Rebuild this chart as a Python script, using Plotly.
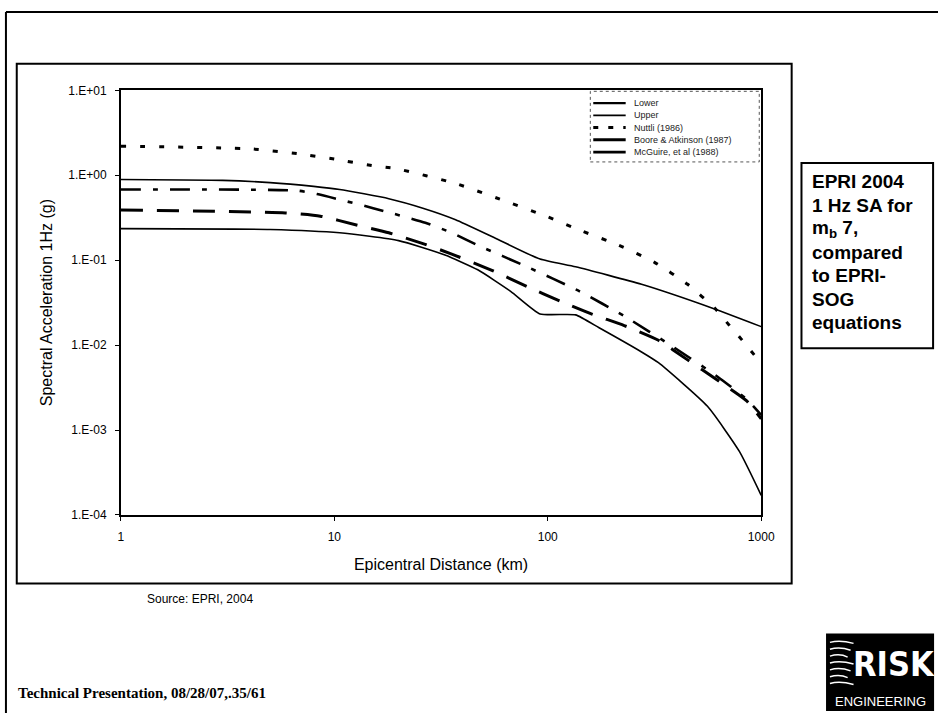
import plotly.graph_objects as go

# ---- data: 1 Hz spectral acceleration (g) vs epicentral distance (km) ----
dist_lower = [1, 5, 10.6, 20, 33, 47, 67, 92, 135, 174, 275, 330, 560, 790, 1000]
sa_lower = [0.235, 0.23, 0.21, 0.17, 0.115, 0.077, 0.043, 0.0233, 0.0227, 0.016,
            0.0083, 0.0062, 0.0019, 0.00056, 0.00017]

dist_upper = [1, 3, 5, 8, 10.6, 18, 26, 37, 56, 92, 135, 275, 596, 1000]
sa_upper = [0.89, 0.87, 0.82, 0.74, 0.68, 0.53, 0.41, 0.30, 0.185, 0.103, 0.0835, 0.052, 0.027, 0.0165]

dist_nuttli = [1, 4, 6.7, 10, 15, 19.4, 37, 67, 98, 145, 215, 315, 452, 608, 710, 815, 930, 1000]
sa_nuttli = [2.2, 2.05, 1.8, 1.55, 1.3, 1.2, 0.8, 0.47, 0.33, 0.22, 0.15, 0.095, 0.052,
             0.027, 0.017, 0.0114, 0.0076, 0.006]

dist_boore = [1, 5.9, 8.6, 12.7, 18, 25.8, 35.5, 54, 80, 114, 162, 228, 330, 452, 620, 855, 1000]
sa_boore = [0.39, 0.36, 0.33, 0.26, 0.21, 0.158, 0.118, 0.077, 0.049, 0.033, 0.023, 0.017,
            0.0114, 0.0067, 0.0039, 0.0022, 0.00135]

dist_mcguire = [1, 6.7, 8.3, 15.2, 26.7, 35.5, 47, 80, 141, 228, 390, 620, 855, 1000]
sa_mcguire = [0.68, 0.66, 0.6, 0.41, 0.276, 0.21, 0.15, 0.0835, 0.043, 0.022, 0.0094,
              0.0043, 0.0023, 0.0015]

series_names = ["Lower", "Upper", "Nuttli (1986)", "Boore & Atkinson (1987)", "McGuire, et al (1988)"]

x_tickvals = [1, 10, 100, 1000]
x_ticktext = ["1", "10", "100", "1000"]
y_tickvals = [1e-4, 1e-3, 1e-2, 1e-1, 1e0, 1e1]
y_ticktext = ["1.E-04", "1.E-03", "1.E-02", "1.E-01", "1.E+00", "1.E+01"]

# ---- page geometry helpers (pixel -> paper) ----
W, H = 952, 720


def px(x):
    return x / W


def py(y):
    return 1 - y / H


SANS = "Arial, Liberation Sans, sans-serif"
SERIF = "Times New Roman, Liberation Serif, serif"

styles = [
    dict(color="black", width=1.6, dash="solid"),
    dict(color="black", width=1.6, dash="solid"),
    dict(color="black", width=3, dash="5px,14px"),
    dict(color="black", width=3, dash="22px,14px"),
    dict(color="black", width=2.6, dash="20px,12px,5px,12px"),
]
data = [
    (dist_lower, sa_lower),
    (dist_upper, sa_upper),
    (dist_nuttli, sa_nuttli),
    (dist_boore, sa_boore),
    (dist_mcguire, sa_mcguire),
]

fig = go.Figure()
for name, (d, s), st in zip(series_names, data, styles):
    fig.add_trace(go.Scatter(x=d, y=s, mode="lines", name=name, line=st,
                             line_shape="spline", line_smoothing=0.5,
                             showlegend=False, hoverinfo="x+y+name"))

shapes = []
annotations = []

# slide frame (top and left edges)
shapes.append(dict(type="line", xref="paper", yref="paper", x0=px(3), x1=px(952),
                   y0=py(5), y1=py(5), line=dict(color="black", width=2)))
shapes.append(dict(type="line", xref="paper", yref="paper", x0=px(3), x1=px(3),
                   y0=py(5), y1=py(720), line=dict(color="black", width=2)))
# chart box
shapes.append(dict(type="rect", xref="paper", yref="paper", x0=px(14), x1=px(803),
                   y0=py(588), y1=py(58), line=dict(color="black", width=2)))

# legend panel drawn inside the plot area
leg_x0, leg_x1 = 598, 770
leg_rows = [98, 110.5, 123, 135.5, 148]
shapes.append(dict(type="rect", xref="paper", yref="paper", x0=px(leg_x0), x1=px(leg_x1),
                   y0=py(158), y1=py(86), line=dict(color="#555", width=1, dash="dot")))
for name, st, yy in zip(series_names, styles, leg_rows):
    lw = st["width"] + (0.8 if name == "Lower" else 0)
    dash = st["dash"]
    if name == "Nuttli (1986)":
        dash = "5px,10px"
    elif name in ("Boore & Atkinson (1987)", "McGuire, et al (1988)"):
        dash = "solid"
    shapes.append(dict(type="line", xref="paper", yref="paper", x0=px(601), x1=px(634),
                       y0=py(yy), y1=py(yy), line=dict(color="black", width=lw, dash=dash)))
    annotations.append(dict(xref="paper", yref="paper", x=px(640), y=py(yy), text=name,
                            showarrow=False, xanchor="left", yanchor="middle",
                            font=dict(family=SANS, size=9, color="#222")))

# side note box
shapes.append(dict(type="rect", xref="paper", yref="paper", x0=px(813), x1=px(947),
                   y0=py(348), y1=py(159), line=dict(color="black", width=2)))
note_lines = ["EPRI 2004", "1 Hz SA for", "m<sub>b</sub> 7,", "compared", "to EPRI-", "SOG", "equations"]
for i, t in enumerate(note_lines):
    annotations.append(dict(xref="paper", yref="paper", x=px(822), y=py(178 + 24 * i), text=t,
                            showarrow=False, xanchor="left", yanchor="middle",
                            font=dict(family=SANS, size=19, color="black", weight="bold")))

# source note and footer
annotations.append(dict(xref="paper", yref="paper", x=px(145), y=py(604), text="Source: EPRI, 2004",
                        showarrow=False, xanchor="left", yanchor="middle",
                        font=dict(family=SANS, size=12, color="black")))
annotations.append(dict(xref="paper", yref="paper", x=px(13), y=py(700),
                        text="Technical Presentation, 08/28/07,.35/61",
                        showarrow=False, xanchor="left", yanchor="middle",
                        font=dict(family=SERIF, size=15, color="black", weight="bold")))

# company logo block
shapes.append(dict(type="rect", xref="paper", yref="paper", x0=px(838), x1=px(948),
                   y0=py(718), y1=py(639), line=dict(width=0), fillcolor="black"))
for k, yy in enumerate([648, 655, 662, 669, 676, 683, 690]):
    shapes.append(dict(type="path", xref="paper", yref="paper",
                       path=f"M {px(842)},{py(yy)} Q {px(852)},{py(yy - 3)} {px(866 - (k % 3) * 3)},{py(yy + 1)}",
                       line=dict(color="white", width=1.5)))
annotations.append(dict(xref="paper", yref="paper", x=px(907), y=py(670), text="RISK",
                        showarrow=False, xanchor="center", yanchor="middle",
                        font=dict(family="DejaVu Sans Condensed, Liberation Sans, sans-serif",
                                  size=34, color="white", weight="bold")))
annotations.append(dict(xref="paper", yref="paper", x=px(893), y=py(708), text="ENGINEERING",
                        showarrow=False, xanchor="center", yanchor="middle",
                        font=dict(family=SANS, size=13, color="white")))

fig.update_layout(
    width=W, height=H, autosize=False,
    margin=dict(l=0, r=0, t=0, b=0),
    paper_bgcolor="white", plot_bgcolor="white",
    shapes=shapes, annotations=annotations,
    xaxis=dict(type="log", range=[0, 3], domain=[px(120), px(772)],
               showline=True, mirror=True, linecolor="black", linewidth=1.5,
               showgrid=False, zeroline=False,
               ticks="outside", ticklen=4, tickcolor="black",
               tickvals=x_tickvals, ticktext=x_ticktext, ticklabelstandoff=6,
               tickfont=dict(family=SANS, size=12, color="black"),
               title=dict(text="Epicentral Distance (km)", standoff=16,
                          font=dict(family=SANS, size=16, color="black"))),
    yaxis=dict(type="log", range=[-4, 1], domain=[py(518), py(85)],
               showline=True, mirror=True, linecolor="black", linewidth=1.5,
               showgrid=False, zeroline=False,
               ticks="outside", ticklen=4, tickcolor="black",
               tickvals=y_tickvals, ticktext=y_ticktext, ticklabelstandoff=6,
               tickfont=dict(family=SANS, size=12, color="black"),
               title=dict(text="Spectral Acceleration 1Hz (g)", standoff=12,
                          font=dict(family=SANS, size=16, color="black"))),
)

fig.write_html("out.html")
